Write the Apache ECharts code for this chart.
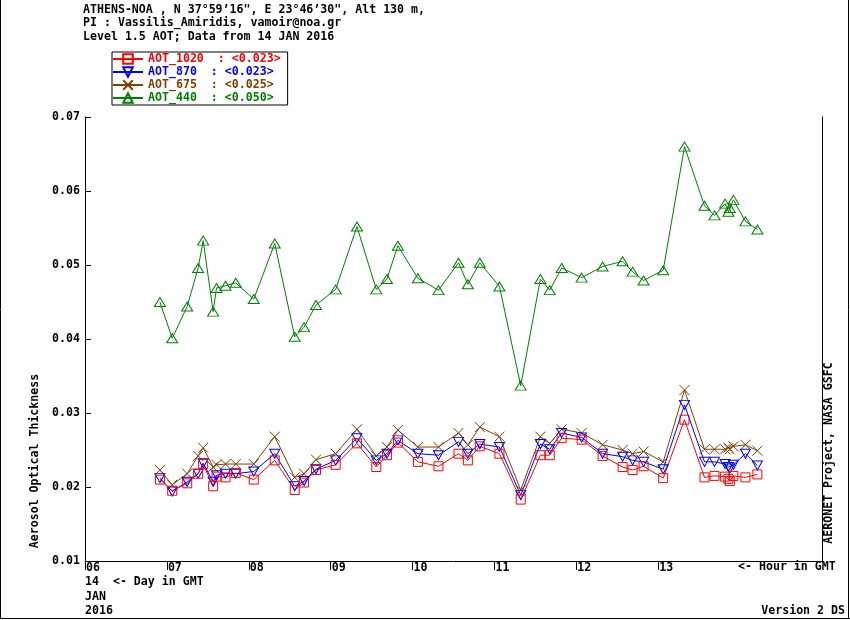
<!DOCTYPE html>
<html>
<head>
<meta charset="utf-8">
<script src="https://cdn.jsdelivr.net/npm/echarts@6/dist/echarts.min.js"></script>
<style>
  html, body { margin: 0; padding: 0; background: #fff; }
  #main { width: 850px; height: 620px; }
</style>
</head>
<body>
<div id="main"></div>
<script>
// hour of day (GMT), 14 JAN 2016
var hours = [6.915, 7.065, 7.248, 7.382, 7.443, 7.565, 7.606, 7.716, 7.841, 8.061,
  8.317, 8.561, 8.675, 8.821, 9.061, 9.321, 9.557, 9.687, 9.821, 10.065,
  10.317, 10.561, 10.675, 10.821, 11.061, 11.321, 11.561, 11.675, 11.821, 12.065,
  12.321, 12.565, 12.687, 12.821, 13.061, 13.321, 13.565, 13.687, 13.817, 13.857,
  13.874, 13.918, 14.065, 14.211];

var aot1020 = [0.0210, 0.0195, 0.0205, 0.0218, 0.0231, 0.0201, 0.0214, 0.0213, 0.0219, 0.0210,
  0.0236, 0.0196, 0.0206, 0.0223, 0.0230, 0.0259, 0.0227, 0.0243, 0.0260, 0.0234,
  0.0228, 0.0245, 0.0236, 0.0255, 0.0245, 0.0183, 0.0243, 0.0243, 0.0266, 0.0264,
  0.0242, 0.0227, 0.0223, 0.0228, 0.0212, 0.0291, 0.0213, 0.0215, 0.0214, 0.0211,
  0.0208, 0.0215, 0.0213, 0.0217];

var aot870 = [0.0212, 0.0194, 0.0207, 0.0218, 0.0232, 0.0207, 0.0216, 0.0218, 0.0218, 0.0221,
  0.0245, 0.0201, 0.0208, 0.0224, 0.0236, 0.0266, 0.0236, 0.0245, 0.0263, 0.0245,
  0.0243, 0.0261, 0.0245, 0.0258, 0.0254, 0.0189, 0.0258, 0.0251, 0.0273, 0.0267,
  0.0245, 0.0241, 0.0236, 0.0234, 0.0224, 0.0311, 0.0234, 0.0234, 0.0231, 0.0227,
  0.0225, 0.0230, 0.0245, 0.0229];

var aot675 = [0.0223, 0.0203, 0.0218, 0.0242, 0.0253, 0.0227, 0.0230, 0.0231, 0.0231, 0.0231,
  0.0268, 0.0213, 0.0218, 0.0237, 0.0245, 0.0278, 0.0242, 0.0254, 0.0277, 0.0254,
  0.0254, 0.0273, 0.0257, 0.0281, 0.0268, 0.0196, 0.0268, 0.0259, 0.0278, 0.0273,
  0.0257, 0.0250, 0.0245, 0.0248, 0.0234, 0.0331, 0.0251, 0.0251, 0.0251, 0.0253,
  0.0251, 0.0255, 0.0257, 0.0249];

var aot440 = [0.0450, 0.0401, 0.0444, 0.0496, 0.0533, 0.0437, 0.0469, 0.0472, 0.0476, 0.0454,
  0.0529, 0.0403, 0.0416, 0.0446, 0.0467, 0.0552, 0.0467, 0.0481, 0.0526, 0.0482,
  0.0466, 0.0503, 0.0474, 0.0503, 0.0471, 0.0337, 0.0481, 0.0466, 0.0496, 0.0483,
  0.0498, 0.0505, 0.0491, 0.0479, 0.0493, 0.0660, 0.0580, 0.0567, 0.0583, 0.0572,
  0.0577, 0.0588, 0.0559, 0.0548];

var hourTicks = [6, 7, 8, 9, 10, 11, 12, 13];
var titleLines = [
  'ATHENS-NOA , N 37\u00b059\u201916", E 23\u00b046\u201930", Alt 130 m,',
  'PI : Vassilis_Amiridis, vamoir@noa.gr',
  'Level 1.5 AOT; Data from 14 JAN 2016'
];
var legendNames = ['AOT_1020  : <0.023>', 'AOT_870  : <0.023>', 'AOT_675  : <0.025>', 'AOT_440  : <0.050>'];
var colors = ['#ff0000', '#0000ff', '#804000', '#008000'];

var FONT = 'DejaVu Sans Mono';
var FS = 11.6;

function pairs(v) {
  return hours.map(function (h, i) { return [h, v[i]]; });
}

function mkSeries(name, values, color, symbol, size, rotate) {
  return {
    name: name,
    type: 'line',
    data: pairs(values),
    symbol: symbol,
    symbolSize: size,
    symbolRotate: rotate || 0,
    showAllSymbol: true,
    animation: false,
    lineStyle: { color: color, width: 1 },
    itemStyle: { color: 'rgba(0,0,0,0)', borderColor: color, borderWidth: 1 }
  };
}

var chart = echarts.init(document.getElementById('main'));

var option = {
  backgroundColor: '#fff',
  animation: false,
  title: {
    text: titleLines.join('\n'),
    left: 83,
    top: 3,
    padding: 0,
    textStyle: { fontFamily: FONT, fontSize: FS, fontWeight: 'bold', color: '#000', lineHeight: 13.5 }
  },
  legend: {
    orient: 'vertical',
    left: 112,
    top: 52,
    padding: [1, 7, 1, 0],
    itemWidth: 30,
    itemHeight: 12,
    itemGap: 1,
    borderColor: '#000',
    borderWidth: 1,
    textStyle: { fontFamily: FONT, fontSize: FS, fontWeight: 'bold', lineHeight: 12 },
    data: legendNames.map(function (n, i) {
      return { name: n, textStyle: { color: colors[i] } };
    })
  },
  grid: { left: 85, right: 28, top: 117, bottom: 59, containLabel: false },
  xAxis: {
    type: 'value',
    min: 6,
    max: 15,
    interval: 1,
    splitLine: { show: false },
    axisLine: { lineStyle: { color: '#000', width: 1 } },
    axisTick: { customValues: hourTicks, length: 9, lineStyle: { color: '#000' } },
    axisLabel: {
      customValues: hourTicks,
      align: 'left',
      margin: 1,
      padding: [0, 0, 0, 1],
      color: '#000',
      fontFamily: FONT,
      fontSize: FS,
      fontWeight: 'bold',
      formatter: function (v) { return (v < 10 ? '0' : '') + v; }
    }
  },
  yAxis: [{
    type: 'value',
    min: 0.01,
    max: 0.07,
    interval: 0.01,
    splitLine: { show: false },
    axisLine: { show: true, lineStyle: { color: '#000', width: 1 } },
    axisTick: { show: true, inside: true, length: 6, lineStyle: { color: '#000' } },
    axisLabel: {
      margin: 5,
      color: '#000',
      fontFamily: FONT,
      fontSize: FS,
      fontWeight: 'bold',
      formatter: function (v) { return v.toFixed(2); }
    }
  }, {
    type: 'value',
    position: 'right',
    min: 0.01,
    max: 0.07,
    splitLine: { show: false },
    axisLine: { show: true, lineStyle: { color: '#000', width: 1 } },
    axisTick: { show: false },
    axisLabel: { show: false }
  }],
  series: [
    mkSeries(legendNames[3], aot440, colors[3], 'triangle', [11, 9]),
    mkSeries(legendNames[2], aot675, colors[2], 'path://M0,0L10,10M0,10L10,0', [10, 10]),
    mkSeries(legendNames[1], aot870, colors[1], 'triangle', [10, 9], 180),
    mkSeries(legendNames[0], aot1020, colors[0], 'rect', [9, 9])
  ],
  graphic: [
    { type: 'line', shape: { x1: 0.5, y1: 0, x2: 0.5, y2: 619 }, style: { stroke: '#000', lineWidth: 1 } },
    { type: 'line', shape: { x1: 848.5, y1: 0, x2: 848.5, y2: 619 }, style: { stroke: '#000', lineWidth: 1 } },
    { type: 'line', shape: { x1: 0, y1: 618.5, x2: 850, y2: 618.5 }, style: { stroke: '#000', lineWidth: 1 } },
    {
      type: 'text', x: 35, y: 461, rotation: Math.PI / 2,
      style: { text: 'Aerosol Optical Thickness', font: 'bold ' + FS + 'px ' + FONT, fill: '#000', align: 'center', verticalAlign: 'middle' }
    },
    {
      type: 'text', x: 829, y: 453, rotation: Math.PI / 2,
      style: { text: 'AERONET Project, NASA GSFC', font: 'bold ' + FS + 'px ' + FONT, fill: '#000', align: 'center', verticalAlign: 'middle' }
    },
    {
      type: 'text', x: 738, y: 567,
      style: { text: '<- Hour in GMT', font: 'bold ' + FS + 'px ' + FONT, fill: '#000', verticalAlign: 'middle' }
    },
    {
      type: 'text', x: 85, y: 582,
      style: { text: '14  <- Day in GMT', font: 'bold ' + FS + 'px ' + FONT, fill: '#000', verticalAlign: 'middle' }
    },
    {
      type: 'text', x: 85, y: 597,
      style: { text: 'JAN', font: 'bold ' + FS + 'px ' + FONT, fill: '#000', verticalAlign: 'middle' }
    },
    {
      type: 'text', x: 85, y: 611,
      style: { text: '2016', font: 'bold ' + FS + 'px ' + FONT, fill: '#000', verticalAlign: 'middle' }
    },
    {
      type: 'text', x: 845, y: 611,
      style: { text: 'Version 2 DS', font: 'bold ' + FS + 'px ' + FONT, fill: '#000', align: 'right', verticalAlign: 'middle' }
    }
  ]
};

chart.setOption(option);
</script>
</body>
</html>
